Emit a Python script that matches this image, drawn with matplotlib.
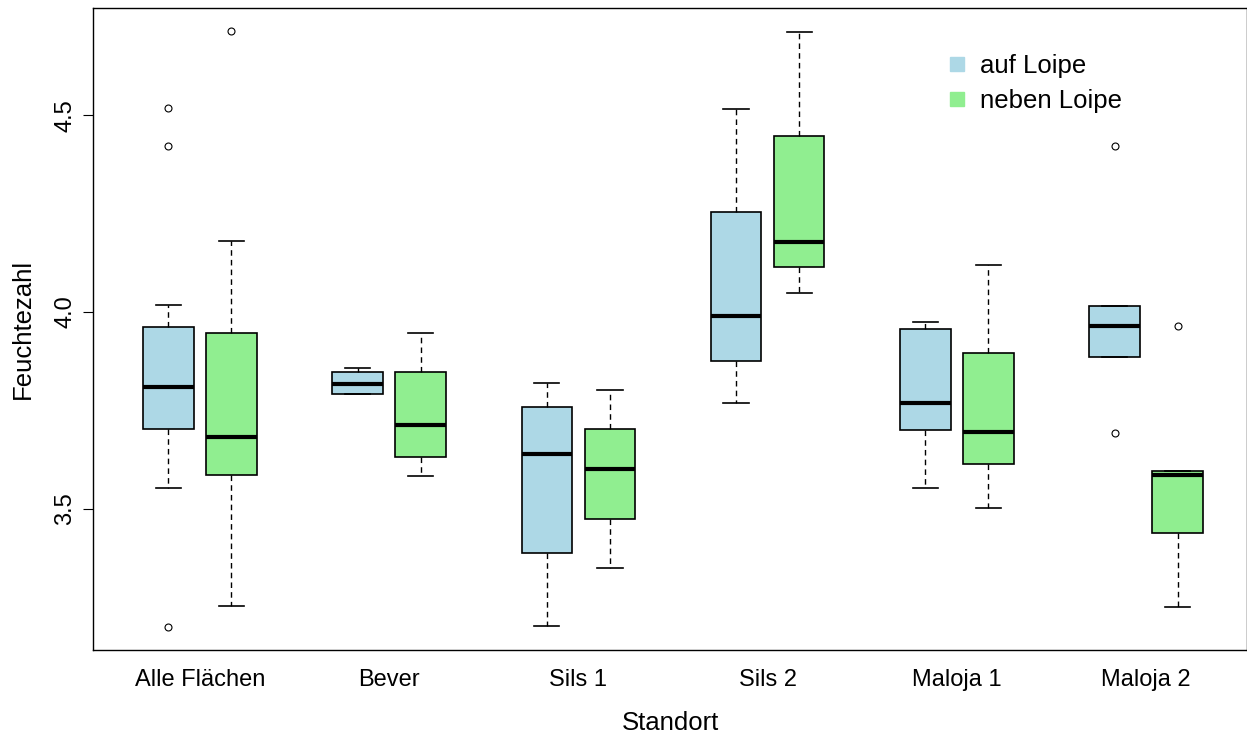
import matplotlib
matplotlib.use("Agg")
import matplotlib.pyplot as plt
from matplotlib.lines import Line2D

plt.rcParams['font.family'] = ['Liberation Sans', 'DejaVu Sans']

# Standorte und Gruppen
standorte = ['Alle Flächen', 'Bever', 'Sils 1', 'Sils 2', 'Maloja 1', 'Maloja 2']
gruppen = ['auf Loipe', 'neben Loipe']
farben = ['lightblue', 'lightgreen']

# Boxplot-Kennwerte je Standort: [auf Loipe, neben Loipe]
whislo = [[3.553, 3.254], [3.791, 3.584], [3.202, 3.349], [3.768, 4.048], [3.553, 3.503], [3.887, 3.252]]
q1     = [[3.703, 3.587], [3.793, 3.631], [3.388, 3.475], [3.877, 4.114], [3.700, 3.614], [3.887, 3.439]]
med    = [[3.810, 3.684], [3.818, 3.714], [3.640, 3.602], [3.989, 4.179], [3.768, 3.695], [3.964, 3.586]]
q3     = [[3.963, 3.947], [3.848, 3.849], [3.760, 3.703], [4.253, 4.446], [3.958, 3.896], [4.016, 3.597]]
whishi = [[4.017, 4.181], [3.859, 3.948], [3.820, 3.801], [4.516, 4.711], [3.976, 4.119], [4.016, 3.597]]
ausreisser = [[[4.518, 4.422, 3.201], [4.714]],
              [[], []],
              [[], []],
              [[], []],
              [[], []],
              [[4.422, 3.692], [3.964]]]

fig = plt.figure(figsize=(12.47, 7.34), dpi=100)
ax = fig.add_axes([93 / 1247, 84 / 734, 1154 / 1247, 642 / 734])

stats, pos, cols = [], [], []
for i in range(len(standorte)):
    for j in range(2):
        stats.append(dict(whislo=whislo[i][j], q1=q1[i][j], med=med[i][j],
                          q3=q3[i][j], whishi=whishi[i][j], fliers=ausreisser[i][j]))
        pos.append(3 * i + j + 1)
        cols.append(farben[j])

bp = ax.bxp(stats, positions=pos, widths=0.8, capwidths=0.4, patch_artist=True,
            boxprops=dict(edgecolor='black', linewidth=1.2),
            medianprops=dict(color='black', linewidth=3),
            whiskerprops=dict(color='black', linewidth=1, linestyle=(0, (4, 3))),
            capprops=dict(color='black', linewidth=1.2),
            flierprops=dict(marker='o', markersize=5, markerfacecolor='none',
                            markeredgecolor='black', markeredgewidth=0.8))
for patch, c in zip(bp['boxes'], cols):
    patch.set_facecolor(c)

ax.set_xlim(-0.194, 18.10)
ax.set_ylim(3.142, 4.772)

ax.set_xticks([3 * i + 1.5 for i in range(len(standorte))])
ax.set_xticklabels(standorte, fontsize=17)
ax.tick_params(axis='x', length=0, pad=14)
ax.set_yticks([3.5, 4.0, 4.5])
ax.set_yticklabels(['3.5', '4.0', '4.5'], fontsize=17, rotation=90, va='center')
ax.tick_params(axis='y', length=7, pad=5)

ax.set_xlabel('Standort', fontsize=18.5, labelpad=14)
ax.set_ylabel('Feuchtezahl', fontsize=18.5, labelpad=14)

for s in ax.spines.values():
    s.set_linewidth(1.0)

handles = [Line2D([], [], linestyle='none', marker='s', markersize=10,
                  markerfacecolor=c, markeredgecolor=c) for c in farben]
ax.legend(handles, gruppen, loc='upper left', bbox_to_anchor=(0.72, 0.965),
          frameon=False, fontsize=18.5, handlelength=0.8, handletextpad=0.5,
          labelspacing=0.45)

fig.savefig('out.png', dpi=100)
